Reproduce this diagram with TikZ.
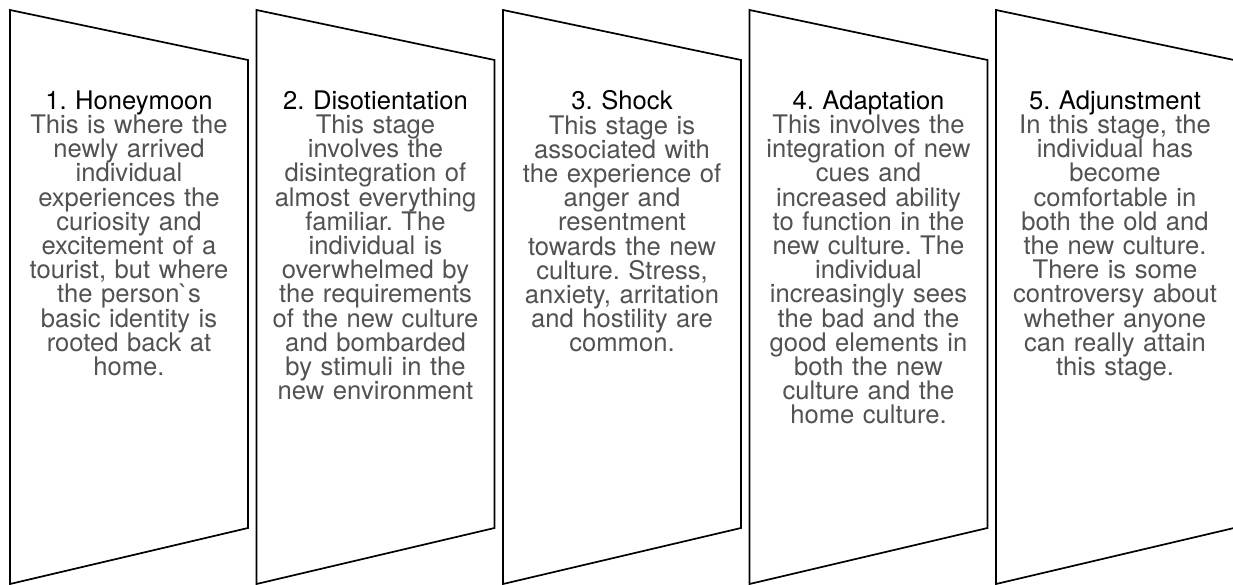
\documentclass[tikz,border=0pt]{standalone}
\usepackage{fontspec}
\newfontfamily\hv{TeX Gyre Heros}
\newcommand{\stagefont}{\hv\frenchspacing\fontsize{25.6}{24.2}\selectfont\lineskiplimit=-50pt\relax\lineskip=0pt\relax}
\tikzset{
  panel/.style={draw=black, line width=1.7pt, line join=miter, fill=white},
  stagetext/.style={anchor=north, inner sep=0pt, align=center, text width=236pt,
    font=\stagefont, text=black!68},
}
\newcommand{\ttl}[1]{\textcolor{black}{#1}}
\begin{document}
\begin{tikzpicture}[x=1pt,y=-1pt]
\useasboundingbox (0,0) rectangle (1233,585);
\foreach \i/\L in {1/10,2/256.5,3/503,4/749.5,5/996}{
  \draw[panel] (\L,10) coordinate (tl\i) -- (\L+238,60) coordinate (tr\i)
     -- (\L+238,528) coordinate (br\i) -- (\L,584) coordinate (bl\i) -- cycle;
}
\node[stagetext] (t1) at (129,90.5) {\ttl{1. Honeymoon}\\This is where the\\newly arrived\\individual\\experiences the\\curiosity and\\excitement of a\\tourist, but where\\the person`s\\basic identity is\\rooted back at\\home.};
\node[stagetext] (t2) at (375.5,90.5) {\ttl{2. Disotientation}\\This stage\\involves the\\disintegration of\\almost everything\\familiar. The\\individual is\\overwhelmed by\\the requirements\\of the new culture\\and bombarded\\by stimuli in the\\new environment};
\node[stagetext] (t3) at (622,90.5) {\ttl{3. Shock}\\This stage is\\associated with\\the experience of\\anger and\\resentment\\towards the new\\culture. Stress,\\anxiety, arritation\\and hostility are\\common.};
\node[stagetext] (t4) at (868.5,90.5) {\ttl{4. Adaptation}\\This involves the\\integration of new\\cues and\\increased ability\\to function in the\\new culture. The\\individual\\increasingly sees\\the bad and the\\good elements in\\both the new\\culture and the\\home culture.};
\node[stagetext] (t5) at (1115,90.5) {\ttl{5. Adjunstment}\\In this stage, the\\individual has\\become\\comfortable in\\both the old and\\the new culture.\\There is some\\controversy about\\whether anyone\\can really attain\\this stage.};
\end{tikzpicture}
\end{document}
